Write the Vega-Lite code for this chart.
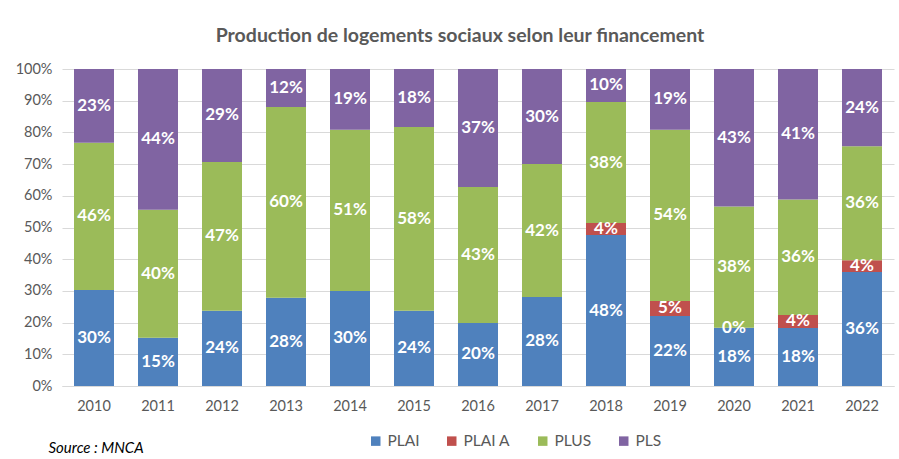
{
  "$schema": "https://vega.github.io/schema/vega-lite/v6.json",
  "autosize": "none",
  "width": 832,
  "height": 317,
  "padding": {"left": 62, "top": 69, "right": 5, "bottom": 73},
  "background": "white",
  "config": {
    "font": "Lato",
    "view": {"stroke": null}
  },
  "title": {
    "text": "Production de logements sociaux selon leur financement",
    "font": "Lato",
    "fontSize": 19.5,
    "fontWeight": "bold",
    "color": "#595959",
    "anchor": "middle",
    "dx": -18,
    "offset": 15
  },
  "data": {
    "values": [
      {"annee": "2010", "type": "PLAI", "ord": 1, "part": 0.303},
      {"annee": "2010", "type": "PLUS", "ord": 3, "part": 0.464},
      {"annee": "2010", "type": "PLS", "ord": 4, "part": 0.233},
      {"annee": "2011", "type": "PLAI", "ord": 1, "part": 0.152},
      {"annee": "2011", "type": "PLUS", "ord": 3, "part": 0.404},
      {"annee": "2011", "type": "PLS", "ord": 4, "part": 0.444},
      {"annee": "2012", "type": "PLAI", "ord": 1, "part": 0.237},
      {"annee": "2012", "type": "PLUS", "ord": 3, "part": 0.470},
      {"annee": "2012", "type": "PLS", "ord": 4, "part": 0.293},
      {"annee": "2013", "type": "PLAI", "ord": 1, "part": 0.278},
      {"annee": "2013", "type": "PLUS", "ord": 3, "part": 0.602},
      {"annee": "2013", "type": "PLS", "ord": 4, "part": 0.120},
      {"annee": "2014", "type": "PLAI", "ord": 1, "part": 0.300},
      {"annee": "2014", "type": "PLUS", "ord": 3, "part": 0.508},
      {"annee": "2014", "type": "PLS", "ord": 4, "part": 0.192},
      {"annee": "2015", "type": "PLAI", "ord": 1, "part": 0.237},
      {"annee": "2015", "type": "PLUS", "ord": 3, "part": 0.580},
      {"annee": "2015", "type": "PLS", "ord": 4, "part": 0.183},
      {"annee": "2016", "type": "PLAI", "ord": 1, "part": 0.199},
      {"annee": "2016", "type": "PLUS", "ord": 3, "part": 0.429},
      {"annee": "2016", "type": "PLS", "ord": 4, "part": 0.372},
      {"annee": "2017", "type": "PLAI", "ord": 1, "part": 0.281},
      {"annee": "2017", "type": "PLUS", "ord": 3, "part": 0.419},
      {"annee": "2017", "type": "PLS", "ord": 4, "part": 0.300},
      {"annee": "2018", "type": "PLAI", "ord": 1, "part": 0.476},
      {"annee": "2018", "type": "PLAI A", "ord": 2, "part": 0.038},
      {"annee": "2018", "type": "PLUS", "ord": 3, "part": 0.382},
      {"annee": "2018", "type": "PLS", "ord": 4, "part": 0.104},
      {"annee": "2019", "type": "PLAI", "ord": 1, "part": 0.221},
      {"annee": "2019", "type": "PLAI A", "ord": 2, "part": 0.047},
      {"annee": "2019", "type": "PLUS", "ord": 3, "part": 0.540},
      {"annee": "2019", "type": "PLS", "ord": 4, "part": 0.192},
      {"annee": "2020", "type": "PLAI", "ord": 1, "part": 0.184},
      {"annee": "2020", "type": "PLAI A", "ord": 2, "part": 0.0},
      {"annee": "2020", "type": "PLUS", "ord": 3, "part": 0.382},
      {"annee": "2020", "type": "PLS", "ord": 4, "part": 0.434},
      {"annee": "2021", "type": "PLAI", "ord": 1, "part": 0.183},
      {"annee": "2021", "type": "PLAI A", "ord": 2, "part": 0.041},
      {"annee": "2021", "type": "PLUS", "ord": 3, "part": 0.364},
      {"annee": "2021", "type": "PLS", "ord": 4, "part": 0.412},
      {"annee": "2022", "type": "PLAI", "ord": 1, "part": 0.360},
      {"annee": "2022", "type": "PLAI A", "ord": 2, "part": 0.037},
      {"annee": "2022", "type": "PLUS", "ord": 3, "part": 0.359},
      {"annee": "2022", "type": "PLS", "ord": 4, "part": 0.244}
    ]
  },
  "transform": [
    {"stack": "part", "groupby": ["annee"], "sort": [{"field": "ord", "order": "ascending"}], "as": ["v0", "v1"], "offset": "normalize"},
    {"calculate": "(datum.v0 + datum.v1) / 2", "as": "vmid"}
  ],
  "encoding": {
    "x": {
      "field": "annee",
      "type": "ordinal",
      "scale": {"paddingInner": 0.375, "paddingOuter": 0.1875},
      "axis": {
        "labelAngle": 0,
        "labelFont": "Lato",
        "labelFontSize": 14.5,
        "labelColor": "#595959",
        "labelPadding": 13,
        "ticks": false,
        "domain": true,
        "domainColor": "#d9d9d9",
        "title": "Source : MNCA",
        "titleFont": "Lato",
        "titleFontSize": 15,
        "titleFontWeight": "normal",
        "titleFontStyle": "italic",
        "titleColor": "#000000",
        "titleAlign": "left",
        "titleBaseline": "middle",
        "titleX": -14,
        "titleY": 61
      }
    }
  },
  "layer": [
    {
      "mark": {"type": "bar"},
      "encoding": {
        "y": {
          "field": "v0",
          "type": "quantitative",
          "scale": {"domain": [0, 1]},
          "axis": {
            "format": ".0%",
            "values": [0, 0.1, 0.2, 0.3, 0.4, 0.5, 0.6, 0.7, 0.8, 0.9, 1],
            "labelFont": "Lato",
            "labelFontSize": 14.5,
            "labelColor": "#595959",
            "labelPadding": 10,
            "labelOverlap": false,
            "ticks": false,
            "domain": false,
            "grid": true,
            "gridColor": "#d9d9d9",
            "title": null
          }
        },
        "y2": {"field": "v1"},
        "color": {
          "field": "type",
          "type": "nominal",
          "scale": {
            "domain": ["PLAI", "PLAI A", "PLUS", "PLS"],
            "range": ["#4F81BD", "#C0504D", "#9BBB59", "#8064A2"]
          },
          "legend": {
            "title": null,
            "orient": "none",
            "direction": "horizontal",
            "legendX": 306,
            "legendY": 364,
            "symbolType": "square",
            "symbolSize": 90,
            "symbolStrokeWidth": 0,
            "labelFont": "Lato",
            "labelFontSize": 15.5,
            "labelColor": "#595959",
            "labelOffset": 4,
            "columnPadding": 24
          }
        }
      }
    },
    {
      "mark": {"type": "text", "color": "white", "font": "Lato", "fontWeight": "bold", "fontSize": 17, "baseline": "middle", "align": "center"},
      "encoding": {
        "y": {
          "field": "vmid",
          "type": "quantitative",
          "scale": {"domain": [0, 1]},
          "axis": {
            "format": ".0%",
            "values": [0, 0.1, 0.2, 0.3, 0.4, 0.5, 0.6, 0.7, 0.8, 0.9, 1],
            "labelFont": "Lato",
            "labelFontSize": 14.5,
            "labelColor": "#595959",
            "labelPadding": 10,
            "labelOverlap": false,
            "ticks": false,
            "domain": false,
            "grid": true,
            "gridColor": "#d9d9d9",
            "title": null
          }
        },
        "text": {"field": "part", "type": "quantitative", "format": ".0%"}
      }
    }
  ]
}
